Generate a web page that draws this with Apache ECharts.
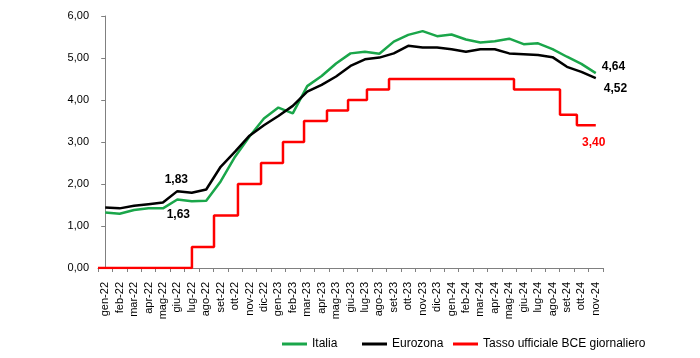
<!DOCTYPE html>
<html>
<head>
<meta charset="utf-8">
<script src="https://cdn.jsdelivr.net/npm/echarts@6/dist/echarts.min.js"></script>
<style>
html,body{margin:0;padding:0;background:#fff;}
#chart{width:700px;height:358px;}
</style>
</head>
<body>
<div id="chart"></div>
<script>
var categories = ['gen-22','feb-22','mar-22','apr-22','mag-22','giu-22','lug-22','ago-22','set-22','ott-22','nov-22','dic-22',
  'gen-23','feb-23','mar-23','apr-23','mag-23','giu-23','lug-23','ago-23','set-23','ott-23','nov-23','dic-23',
  'gen-24','feb-24','mar-24','apr-24','mag-24','giu-24','lug-24','ago-24','set-24','ott-24','nov-24'];
var italia = [1.32,1.29,1.38,1.42,1.42,1.63,1.59,1.60,2.06,2.65,3.13,3.56,
  3.82,3.68,4.33,4.57,4.87,5.11,5.15,5.10,5.39,5.55,5.64,5.52,
  5.56,5.44,5.37,5.40,5.46,5.33,5.35,5.21,5.03,4.86,4.64];
var eurozona = [1.44,1.42,1.48,1.52,1.56,1.83,1.79,1.87,2.41,2.77,3.15,3.40,
  3.62,3.86,4.20,4.36,4.56,4.81,4.97,5.01,5.11,5.29,5.25,5.25,
  5.21,5.15,5.21,5.21,5.11,5.09,5.07,5.02,4.79,4.67,4.52];
// BCE daily rate: [position in month-index units, new rate]
var bcePos = [-0.5, 6.01, 7.54, 9.20, 10.80, 12.32, 13.78, 15.37, 16.83, 18.14, 19.67, 28.33, 31.52, 32.69, 34.0];
var bceRate = [0, 0.50, 1.25, 2.00, 2.50, 3.00, 3.50, 3.75, 4.00, 4.25, 4.50, 4.25, 3.65, 3.40, 3.40];
var yTicks = [0,1,2,3,4,5,6];

var FONT = "'Liberation Sans Narrow','Arial Narrow','Liberation Sans',Arial,sans-serif";
function fmt(v){ return v.toFixed(2).replace('.', ','); }

var labelStyle = {fontFamily:FONT, fontSize:12, fontWeight:'bold', color:'#000'};
function lab(extra){ return Object.assign({show:true}, labelStyle, extra); }

var italiaData = italia.map(function(v,i){
  var d = {value:v};
  if (i === 5) d.label = lab({position:'bottom', distance:9, offset:[1,0]});
  if (i === italia.length-1) d.label = lab({position:'right', offset:[0,-6], distance:6});
  return d;
});
var euroData = eurozona.map(function(v,i){
  var d = {value:v};
  if (i === 5) d.label = lab({position:'top', distance:5, offset:[-1,0]});
  if (i === eurozona.length-1) d.label = lab({position:'right', offset:[2,11], distance:6});
  return d;
});
var bceData = bcePos.map(function(x,i){
  var d = {value:[x, bceRate[i]]};
  if (i === bcePos.length-1) d.label = lab({position:'bottom', distance:11, color:'#ff0000', offset:[-2,0]});
  return d;
});

var chart = echarts.init(document.getElementById('chart'), null, {renderer:'canvas'});
var legendBase = {orient:'horizontal', top:333, itemWidth:25, itemHeight:3, icon:'rect', itemGap:5,
  textStyle:{fontFamily:FONT, fontSize:12, color:'#000'}};
chart.setOption({
  animation:false,
  backgroundColor:'#fff',
  grid:{left:98, right:97, top:16, bottom:90, containLabel:false},
  legend:[
    Object.assign({}, legendBase, {left:277, data:['Italia']}),
    Object.assign({}, legendBase, {left:357, data:['Eurozona']}),
    Object.assign({}, legendBase, {left:448, data:['Tasso ufficiale BCE giornaliero']})
  ],
  xAxis:[{
    type:'category', data:categories, boundaryGap:true,
    axisLine:{lineStyle:{color:'#808080', width:1}},
    axisTick:{show:true, alignWithLabel:false, length:4, lineStyle:{color:'#808080'}},
    axisLabel:{rotate:90, interval:0, margin:14, fontFamily:FONT, fontSize:11, color:'#000'}
  },{
    type:'value', min:-0.5, max:34.5, show:false
  }],
  yAxis:{
    type:'value', min:0, max:6, interval:1,
    axisLine:{show:true, lineStyle:{color:'#808080'}},
    axisTick:{show:true, length:4, lineStyle:{color:'#808080'}},
    splitLine:{show:false},
    axisLabel:{margin:9, fontFamily:FONT, fontSize:11, color:'#000', formatter:function(v){return fmt(v);}}
  },
  series:[{
    name:'Italia', type:'line', data:italiaData, symbol:'circle', symbolSize:0, showSymbol:true, z:3,
    lineStyle:{color:'#1aa64a', width:2.5}, itemStyle:{color:'#1aa64a'},
    label:{show:false, formatter:function(p){return fmt(p.value);}}
  },{
    name:'Eurozona', type:'line', data:euroData, symbol:'circle', symbolSize:0, showSymbol:true, z:4,
    lineStyle:{color:'#000', width:2.5}, itemStyle:{color:'#000'},
    label:{show:false, formatter:function(p){return fmt(p.value);}}
  },{
    name:'Tasso ufficiale BCE giornaliero', type:'line', xAxisIndex:1, data:bceData, step:'end',
    symbol:'circle', symbolSize:0, showSymbol:true, z:2,
    lineStyle:{color:'#ff0000', width:2.5}, itemStyle:{color:'#ff0000'},
    label:{show:false, formatter:function(p){return fmt(p.value[1]);}}
  }]
});
</script>
</body>
</html>
